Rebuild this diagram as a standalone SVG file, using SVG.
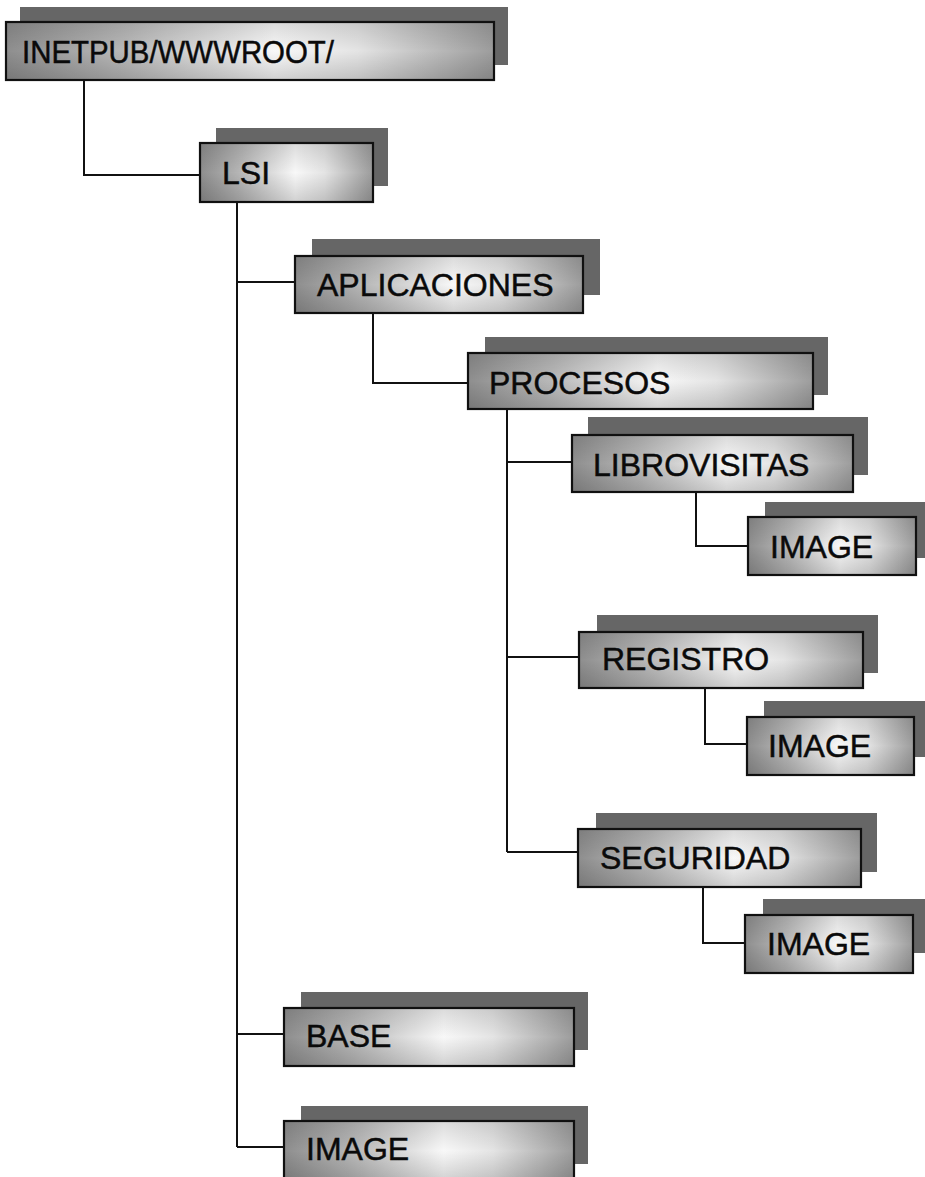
<svg xmlns="http://www.w3.org/2000/svg" width="925" height="1177" viewBox="0 0 925 1177">
<defs>
<linearGradient id="gh" x1="0" y1="0" x2="1" y2="0">
<stop offset="0" stop-color="#8e8e8e"/>
<stop offset="0.25" stop-color="#bababa"/>
<stop offset="0.55" stop-color="#f8f8f8"/>
<stop offset="0.72" stop-color="#e4e4e4"/>
<stop offset="1" stop-color="#9c9c9c"/>
</linearGradient>
<linearGradient id="gv" x1="0" y1="0" x2="0" y2="1">
<stop offset="0" stop-color="#000" stop-opacity="0.12"/>
<stop offset="0.5" stop-color="#000" stop-opacity="0"/>
<stop offset="1" stop-color="#000" stop-opacity="0.16"/>
</linearGradient>
</defs>
<style>
.sh{fill:#666}
.bx{fill:url(#gh);stroke:#111;stroke-width:2.2}
.ov{fill:url(#gv)}
.t{font-family:"Liberation Sans",Arial,sans-serif;font-size:32px;fill:#0a0a0a;stroke:#0a0a0a;stroke-width:0.5}
.c{fill:none;stroke:#111;stroke-width:2}
</style>
<g id="connectors">
<polyline class="c" points="84,80 84,175 200,175"/>
<line class="c" x1="237" y1="202" x2="237" y2="1147"/>
<line class="c" x1="237" y1="282" x2="295" y2="282"/>
<line class="c" x1="237" y1="1034" x2="284" y2="1034"/>
<line class="c" x1="237" y1="1147" x2="284" y2="1147"/>
<polyline class="c" points="373,313 373,383 468,383"/>
<line class="c" x1="507" y1="409" x2="507" y2="852"/>
<line class="c" x1="507" y1="462" x2="572" y2="462"/>
<line class="c" x1="507" y1="657" x2="579" y2="657"/>
<line class="c" x1="507" y1="852" x2="578" y2="852"/>
<polyline class="c" points="696,492 696,546 748,546"/>
<polyline class="c" points="705,688 705,744 747,744"/>
<polyline class="c" points="703,887 703,943 745,943"/>
</g>
<g id="n-inetpub">
<rect class="sh" x="20" y="7" width="488" height="58"/>
<rect class="bx" x="6" y="22" width="488" height="58"/>
<rect class="ov" x="6" y="22" width="488" height="58"/>
<text class="t" x="22" y="63" font-size="35" textLength="312" lengthAdjust="spacingAndGlyphs">INETPUB/WWWROOT/</text>
</g>
<g id="n-lsi">
<rect class="sh" x="216" y="128" width="172" height="58"/>
<rect class="bx" x="200" y="143" width="173" height="59"/>
<rect class="ov" x="200" y="143" width="173" height="59"/>
<text class="t" x="222" y="184">LSI</text>
</g>
<g id="n-aplicaciones">
<rect class="sh" x="312" y="239" width="288" height="56"/>
<rect class="bx" x="295" y="256" width="288" height="57"/>
<rect class="ov" x="295" y="256" width="288" height="57"/>
<text class="t" x="317" y="296">APLICACIONES</text>
</g>
<g id="n-procesos">
<rect class="sh" x="485" y="337" width="343" height="58"/>
<rect class="bx" x="468" y="353" width="345" height="56"/>
<rect class="ov" x="468" y="353" width="345" height="56"/>
<text class="t" x="489" y="394">PROCESOS</text>
</g>
<g id="n-librovisitas">
<rect class="sh" x="588" y="417" width="280" height="58"/>
<rect class="bx" x="572" y="435" width="281" height="57"/>
<rect class="ov" x="572" y="435" width="281" height="57"/>
<text class="t" x="593" y="476">LIBROVISITAS</text>
</g>
<g id="n-image-librovisitas">
<rect class="sh" x="765" y="502" width="160" height="56"/>
<rect class="bx" x="748" y="517" width="168" height="58"/>
<rect class="ov" x="748" y="517" width="168" height="58"/>
<text class="t" x="770" y="558">IMAGE</text>
</g>
<g id="n-registro">
<rect class="sh" x="597" y="615" width="281" height="58"/>
<rect class="bx" x="579" y="632" width="284" height="56"/>
<rect class="ov" x="579" y="632" width="284" height="56"/>
<text class="t" x="602" y="670">REGISTRO</text>
</g>
<g id="n-image-registro">
<rect class="sh" x="764" y="701" width="161" height="56"/>
<rect class="bx" x="747" y="717" width="167" height="58"/>
<rect class="ov" x="747" y="717" width="167" height="58"/>
<text class="t" x="768" y="757">IMAGE</text>
</g>
<g id="n-seguridad">
<rect class="sh" x="596" y="813" width="281" height="59"/>
<rect class="bx" x="578" y="829" width="283" height="58"/>
<rect class="ov" x="578" y="829" width="283" height="58"/>
<text class="t" x="600" y="869">SEGURIDAD</text>
</g>
<g id="n-image-seguridad">
<rect class="sh" x="763" y="899" width="162" height="54"/>
<rect class="bx" x="745" y="915" width="168" height="58"/>
<rect class="ov" x="745" y="915" width="168" height="58"/>
<text class="t" x="767" y="955">IMAGE</text>
</g>
<g id="n-base">
<rect class="sh" x="301" y="992" width="287" height="58"/>
<rect class="bx" x="284" y="1008" width="290" height="58"/>
<rect class="ov" x="284" y="1008" width="290" height="58"/>
<text class="t" x="306" y="1047">BASE</text>
</g>
<g id="n-image-lsi">
<rect class="sh" x="301" y="1106" width="287" height="58"/>
<rect class="bx" x="284" y="1121" width="290" height="60"/>
<rect class="ov" x="284" y="1121" width="290" height="60"/>
<text class="t" x="306" y="1160">IMAGE</text>
</g>
</svg>
